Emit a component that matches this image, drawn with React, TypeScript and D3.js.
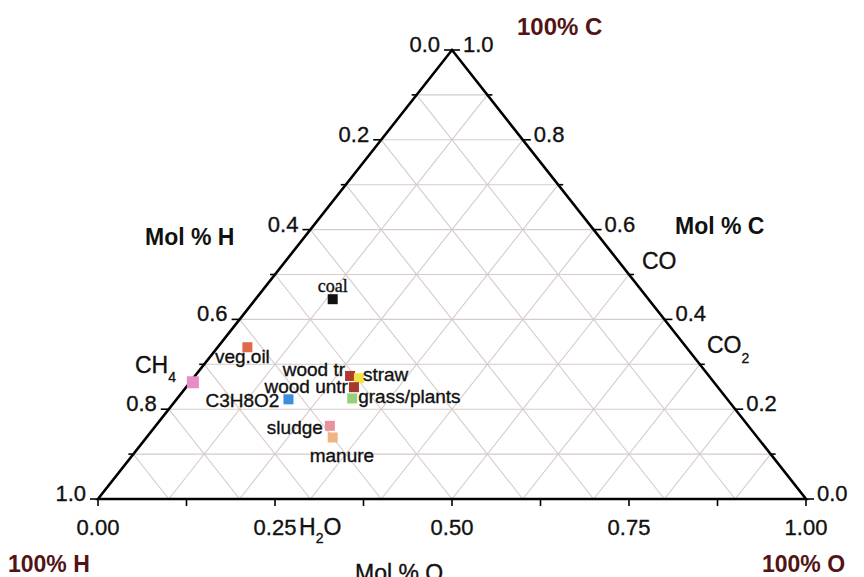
import React from "react";
import * as d3 from "d3";

// ---- data (mole fractions O, H, C) ----
const names = ["coal", "veg.oil", "CH4", "wood tr", "straw", "wood untr", "grass/plants", "C3H8O2", "sludge", "manure"];
const molO = [0.109, 0.042, 0.004, 0.219, 0.234, 0.237, 0.247, 0.158, 0.246, 0.263];
const molC = [0.445, 0.338, 0.260, 0.274, 0.269, 0.249, 0.224, 0.222, 0.163, 0.137];
const molH = molO.map((o, i) => 1 - o - molC[i]);
const colors = ["#111111", "#e0694a", "#e68cc6", "#b3392c", "#f2e24a", "#a8382a", "#92d07c", "#3a8fda", "#e8939b", "#f0b483"];
const labels = ["coal", "veg.oil", "", "wood tr", "straw", "wood untr", "grass/plants", "C3H8O2", "sludge", "manure"];

const leftTicks = [0, 0.2, 0.4, 0.6, 0.8, 1.0];
const rightTicks = [0, 0.2, 0.4, 0.6, 0.8, 1.0];
const bottomTicks = [0, 0.25, 0.5, 0.75, 1.0];
const gridSteps = [0.1, 0.2, 0.3, 0.4, 0.5, 0.6, 0.7, 0.8, 0.9];

// label placement (layout)
const labelPlace: Record<string, { dx: number; dy: number; anchor: string; serif?: boolean }> = {
  "coal": { dx: 0, dy: -7, anchor: "middle", serif: true },
  "veg.oil": { dx: -5, dy: 16, anchor: "middle" },
  "wood tr": { dx: -5, dy: 0, anchor: "end" },
  "straw": { dx: 4, dy: 3, anchor: "start" },
  "wood untr": { dx: -6, dy: 6, anchor: "end" },
  "grass/plants": { dx: 6, dy: 5, anchor: "start" },
  "C3H8O2": { dx: -9, dy: 8, anchor: "end" },
  "sludge": { dx: -7, dy: 8, anchor: "end" },
  "manure": { dx: -23, dy: 25, anchor: "start" },
};

const W = 864, H = 577;
const xScale = d3.scaleLinear().domain([0, 1]).range([98, 806]);
const yScale = d3.scaleLinear().domain([0, 1]).range([499, 50]);
const proj = (o: number, c: number): [number, number] => [xScale(o + c / 2), yScale(c)];

const SANS = "'Liberation Sans', Arial, Helvetica, sans-serif";
const MAROON = "#521414";
const INK = "#111";

export default function App() {
  const A = proj(0, 0); // 100% H
  const B = proj(1, 0); // 100% O
  const T = proj(0, 1); // 100% C
  const line = d3.line();
  const tri = line([A, B, T, A]) + "Z";

  const grid: [number, number][][] = [];
  gridSteps.forEach((v) => {
    grid.push([proj(0, v), proj(1 - v, v)]); // const C
    grid.push([proj(v, 0), proj(v, 1 - v)]); // const O
    grid.push([proj(1 - v, 0), proj(0, 1 - v)]); // const H
  });

  const tenths = d3.range(0, 11).map((i) => i / 10);
  const eighths = d3.range(0, 9).map((i) => i / 8);
  const heavy = { stroke: INK, strokeWidth: 0.35 };

  return (
    <svg width={W} height={H} style={{ position: "fixed", left: 0, top: 0, background: "#fff" }} fontFamily={SANS}>
      <rect width={W} height={H} fill="#fff" />
      {grid.map((g, i) => (
        <path key={i} d={line(g) || ""} stroke="#d6caca" strokeWidth={1.1} fill="none" />
      ))}
      <path d={tri} fill="none" stroke="#000" strokeWidth={2.6} strokeLinejoin="miter" />

      {/* left axis ticks (Mol % H) */}
      {tenths.map((h, i) => {
        const [x, y] = proj(0, 1 - h);
        const len = i % 2 === 0 ? 8 : 5;
        return <line key={"lt" + i} x1={x} y1={y} x2={x - len} y2={y} stroke="#000" strokeWidth={1.6} />;
      })}
      {leftTicks.map((h, i) => {
        const [x, y] = proj(0, 1 - h);
        return (
          <text key={"ll" + i} x={x - 12} y={y + 2} textAnchor="end" fontSize={22} fill={INK} {...heavy}>
            {h.toFixed(1)}
          </text>
        );
      })}

      {/* right axis ticks (Mol % C) */}
      {tenths.map((c, i) => {
        const [x, y] = proj(1 - c, c);
        const len = i % 2 === 0 ? 8 : 5;
        return <line key={"rt" + i} x1={x} y1={y} x2={x + len} y2={y} stroke="#000" strokeWidth={1.6} />;
      })}
      {rightTicks.map((c, i) => {
        const [x, y] = proj(1 - c, c);
        return (
          <text key={"rl" + i} x={x + 11} y={y + 2} textAnchor="start" fontSize={22} fill={INK} {...heavy}>
            {c.toFixed(1)}
          </text>
        );
      })}

      {/* bottom axis ticks (Mol % O) */}
      {eighths.map((o, i) => {
        const [x, y] = proj(o, 0);
        return <line key={"bt" + i} x1={x} y1={y} x2={x} y2={y + 7} stroke="#000" strokeWidth={1.6} />;
      })}
      {bottomTicks.map((o, i) => {
        const [x, y] = proj(o, 0);
        return (
          <text key={"bl" + i} x={x} y={y + 36} textAnchor="middle" fontSize={22} fill={INK} {...heavy}>
            {o.toFixed(2)}
          </text>
        );
      })}

      {/* species labels */}
      <text x={299} y={535} fontSize={23} fill={INK} {...heavy}>
        H<tspan fontSize={14} dy={8}>2</tspan>
        <tspan dy={-8}>O</tspan>
      </text>
      <text x={135} y={373} fontSize={23} fill={INK} {...heavy}>
        CH<tspan fontSize={14} dy={9}>4</tspan>
      </text>
      <text x={642} y={269} fontSize={23} fill={INK} {...heavy}>CO</text>
      <text x={707} y={353} fontSize={23} fill={INK} {...heavy}>
        CO<tspan fontSize={14} dy={10}>2</tspan>
      </text>

      {/* axis titles */}
      <text x={145} y={245} fontSize={23} fontWeight="bold" fill={INK}>Mol % H</text>
      <text x={675} y={234} fontSize={23} fontWeight="bold" fill={INK}>Mol % C</text>
      <text x={355} y={581} fontSize={23} fill={INK} {...heavy}>Mol % O</text>
      <text x={517} y={35} fontSize={24} fontWeight="bold" fill={MAROON}>100% C</text>
      <text x={8} y={572} fontSize={23} fontWeight="bold" fill={MAROON}>100% H</text>
      <text x={762} y={572} fontSize={23} fontWeight="bold" fill={MAROON}>100% O</text>

      {/* points */}
      {names.map((n, i) => {
        const [x, y] = proj(molO[i], molC[i]);
        const s = n === "CH4" ? 12 : 10;
        return <rect key={"p" + i} x={x - s / 2} y={y - s / 2} width={s} height={s} fill={colors[i]} />;
      })}
      {names.map((n, i) => {
        const lab = labels[i];
        if (!lab) return null;
        const p = labelPlace[n];
        const [x, y] = proj(molO[i], molC[i]);
        return (
          <text
            key={"t" + i}
            x={x + p.dx}
            y={y + p.dy}
            textAnchor={p.anchor as any}
            fontSize={p.serif ? 18 : 19}
            fontFamily={p.serif ? "'Liberation Serif', 'Times New Roman', serif" : SANS}
            fill={INK}
            {...heavy}
          >
            {lab}
          </text>
        );
      })}
    </svg>
  );
}
